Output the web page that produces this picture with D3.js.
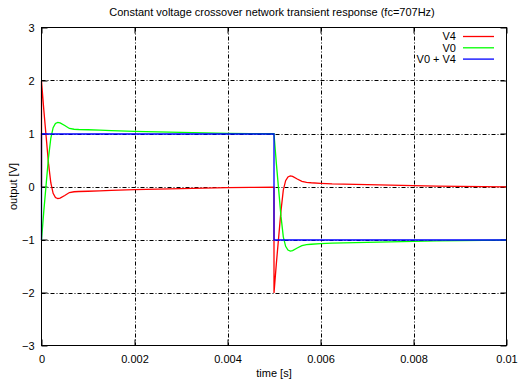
<!DOCTYPE html>
<html>
<head>
<meta charset="utf-8">
<script src="https://cdn.jsdelivr.net/npm/d3@7"></script>
<style>
  body { margin: 0; background: #fff; }
  text { font-family: "Liberation Sans", Arial, sans-serif; font-size: 11px; fill: #000; }
</style>
</head>
<body>
<div class="canvas"></div>
<script>
// time [s]; the duplicate time points are the two edges of each step
const time = [
  0, 0, 0.00005, 0.0001, 0.00015, 0.0002, 0.00025, 0.0003, 0.00035, 0.0004,
  0.0005, 0.0006, 0.0007, 0.0008, 0.001, 0.00125, 0.0015, 0.002, 0.0025, 0.003,
  0.0035, 0.004, 0.0045, 0.005,
  0.005, 0.00505, 0.0051, 0.00515, 0.0052, 0.00525, 0.0053, 0.00535, 0.0054, 0.0055,
  0.0056, 0.0057, 0.0058, 0.006, 0.00625, 0.0065, 0.007, 0.0075, 0.008, 0.0085,
  0.009, 0.0095, 0.01
];
const v4 = [
  0, 2, 1.45, 0.95, 0.45, 0.08, -0.12, -0.2, -0.22, -0.21,
  -0.16, -0.105, -0.09, -0.085, -0.08, -0.072, -0.065, -0.05, -0.04, -0.03,
  -0.02, -0.013, -0.008, -0.005,
  -2, -1.45, -0.95, -0.45, -0.06, 0.12, 0.19, 0.21, 0.2, 0.15,
  0.105, 0.088, 0.08, 0.07, 0.06, 0.055, 0.045, 0.035, 0.025, 0.017,
  0.011, 0.007, 0.004
];
const v0 = [
  -1, -1, -0.45, 0.05, 0.55, 0.92, 1.12, 1.2, 1.22, 1.21,
  1.16, 1.105, 1.09, 1.085, 1.08, 1.072, 1.065, 1.05, 1.04, 1.03,
  1.02, 1.013, 1.008, 1.005,
  1, 0.45, -0.05, -0.55, -0.94, -1.12, -1.19, -1.21, -1.2, -1.15,
  -1.105, -1.088, -1.08, -1.07, -1.06, -1.055, -1.045, -1.035, -1.025, -1.017,
  -1.011, -1.007, -1.004
];
const vsum = [
  -1, 1, 1, 1, 1, 1, 1, 1, 1, 1,
  1, 1, 1, 1, 1, 1, 1, 1, 1, 1,
  1, 1, 1, 1,
  -1, -1, -1, -1, -1, -1, -1, -1, -1, -1,
  -1, -1, -1, -1, -1, -1, -1, -1, -1, -1,
  -1, -1, -1
];
const xTicks = [0, 0.002, 0.004, 0.006, 0.008, 0.01];
const yTicks = [-3, -2, -1, 0, 1, 2, 3];
const seriesNames = ["V4", "V0", "V0 + V4"];
const seriesColours = ["#ff0000", "#00ff00", "#0000ff"];

const dims = { w: 528, h: 384 };
const plot = { left: 41.5, right: 506.5, top: 27.5, bottom: 345.5 };

const svg = d3
  .select(".canvas")
  .append("svg")
  .attr("width", dims.w)
  .attr("height", dims.h);

const x = d3.scaleLinear().domain([0, 0.01]).range([plot.left, plot.right]);
const y = d3.scaleLinear().domain([-3, 3]).range([plot.bottom, plot.top]);

// grid (dash-dot, inner ticks only)
const grid = svg.append("g").attr("stroke", "#000").attr("stroke-width", 1)
  .attr("stroke-dasharray", "4,2,1,2");
grid.selectAll(".gx")
  .data(xTicks.slice(1, -1))
  .enter()
  .append("line")
  .attr("x1", d => Math.round(x(d)) + 0.5)
  .attr("x2", d => Math.round(x(d)) + 0.5)
  .attr("y1", plot.top)
  .attr("y2", plot.bottom);
grid.selectAll(".gy")
  .data(yTicks.slice(1, -1))
  .enter()
  .append("line")
  .attr("x1", plot.left)
  .attr("x2", plot.right)
  .attr("y1", d => Math.round(y(d)) + 0.5)
  .attr("y2", d => Math.round(y(d)) + 0.5);

// axes: tick labels and inward ticks
svg.append("g")
  .attr("transform", `translate(0, ${plot.bottom})`)
  .call(d3.axisBottom(x).tickValues(xTicks).tickFormat(d3.format("")).tickSizeInner(-6).tickSizeOuter(0).tickPadding(10));
svg.append("g")
  .attr("transform", `translate(${plot.left}, 0)`)
  .call(d3.axisLeft(y).tickValues(yTicks).tickFormat(d3.format("d")).tickSizeInner(-6).tickSizeOuter(0).tickPadding(7));
svg.append("g")
  .attr("transform", `translate(0, ${plot.top})`)
  .call(d3.axisTop(x).tickValues(xTicks).tickFormat("").tickSizeInner(-6).tickSizeOuter(0));
svg.append("g")
  .attr("transform", `translate(${plot.right}, 0)`)
  .call(d3.axisRight(y).tickValues(yTicks).tickFormat("").tickSizeInner(-6).tickSizeOuter(0));
svg.selectAll(".domain").remove();
svg.selectAll(".tick line").attr("stroke", "#000");
svg.selectAll(".tick text").attr("font-size", 11).attr("font-family", "Liberation Sans, Arial, sans-serif").attr("fill", "#000");

// series, drawn in gnuplot order so the sum sits on top
const series = [v4, v0, vsum];
const line = d3.line().x(d => x(d[0])).y(d => y(d[1]) + 0.5);
series.forEach((vals, i) => {
  svg.append("path")
    .datum(time.map((t, j) => [t, vals[j]]))
    .attr("fill", "none")
    .attr("stroke", seriesColours[i])
    .attr("stroke-width", 1.3)
    .attr("d", line);
});

// border
svg.append("rect")
  .attr("x", plot.left)
  .attr("y", plot.top)
  .attr("width", plot.right - plot.left)
  .attr("height", plot.bottom - plot.top)
  .attr("fill", "none")
  .attr("stroke", "#000")
  .attr("stroke-width", 1);

// legend
const legend = svg.append("g");
seriesNames.forEach((name, i) => {
  const ly = 36.5 + i * 11.3;
  legend.append("text")
    .attr("x", 456)
    .attr("y", ly)
    .attr("dy", "0.35em")
    .attr("text-anchor", "end")
    .text(name);
  legend.append("line")
    .attr("x1", 463)
    .attr("x2", 494)
    .attr("y1", ly)
    .attr("y2", ly)
    .attr("stroke", seriesColours[i])
    .attr("stroke-width", 1.3);
});

// titles
svg.append("text")
  .attr("x", 272)
  .attr("y", 12)
  .attr("dy", "0.35em")
  .attr("text-anchor", "middle")
  .text("Constant voltage crossover network transient response (fc=707Hz)");
svg.append("text")
  .attr("x", (plot.left + plot.right) / 2)
  .attr("y", 373)
  .attr("dy", "0.35em")
  .attr("text-anchor", "middle")
  .text("time [s]");
svg.append("text")
  .attr("transform", `translate(13, ${(plot.top + plot.bottom) / 2}) rotate(-90)`)
  .attr("dy", "0.35em")
  .attr("text-anchor", "middle")
  .text("output [V]");
</script>
</body>
</html>
